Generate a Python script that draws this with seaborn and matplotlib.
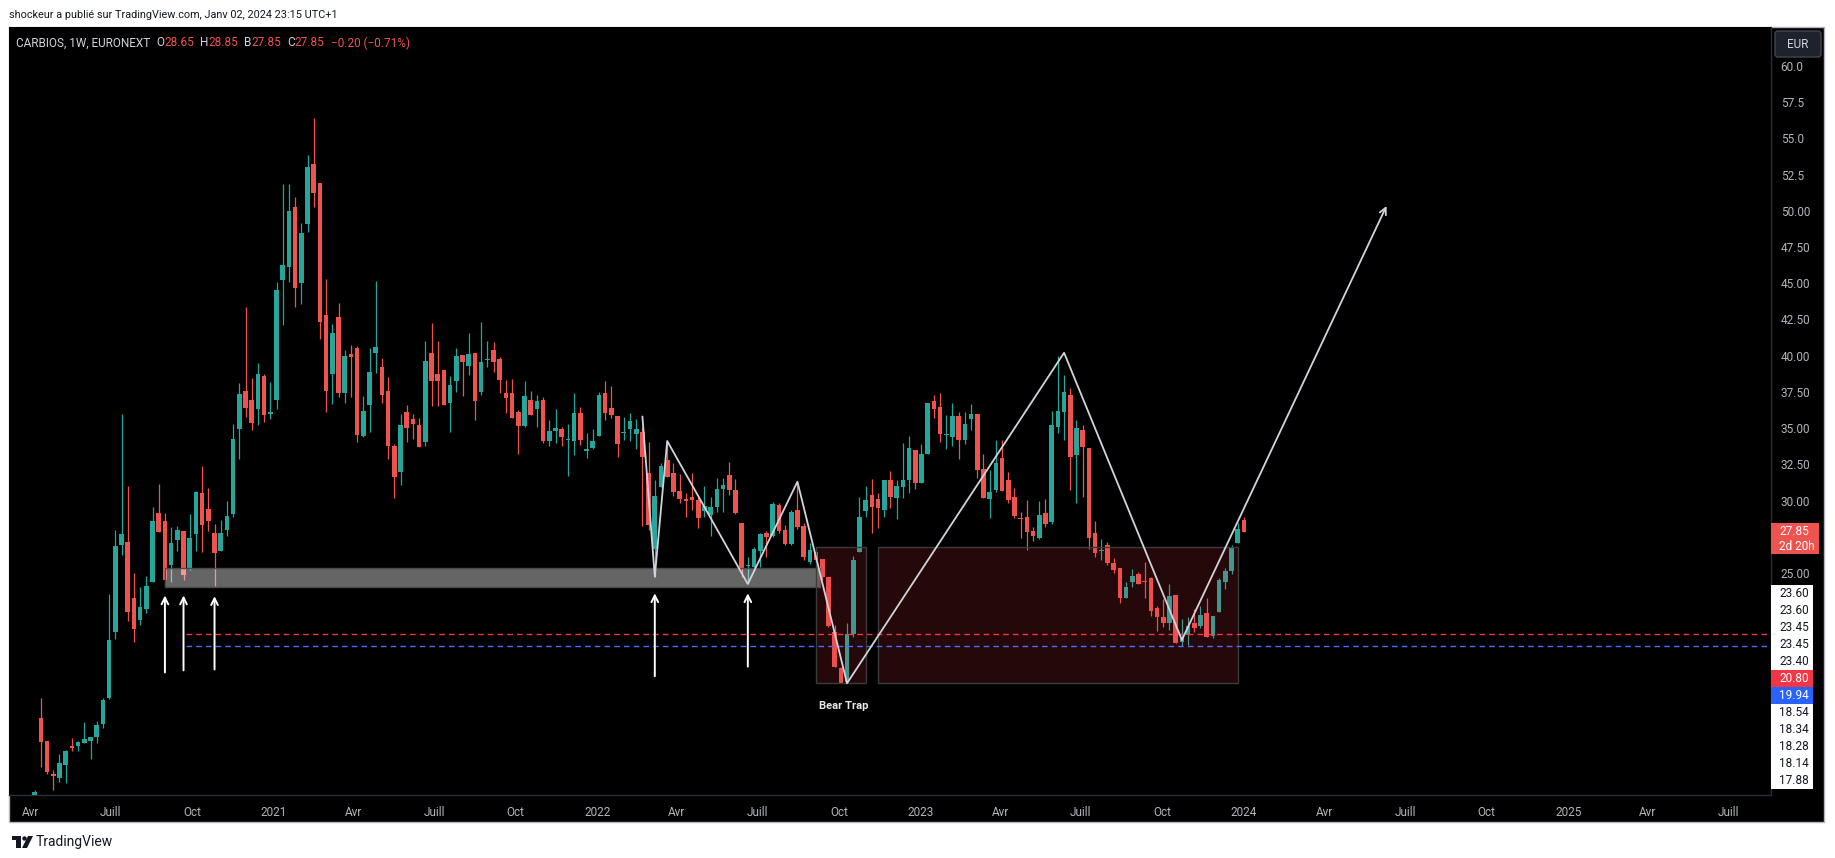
import matplotlib
matplotlib.use("Agg")
import matplotlib.pyplot as plt
import matplotlib.dates as mdates
from matplotlib.patches import Rectangle, FancyBboxPatch, Circle, Polygon
from matplotlib.transforms import IdentityTransform
import numpy as np
import pandas as pd
import seaborn as sns


# CARBIOS weekly candles (EURONEXT, 1W), first bar on the week of 2020-04-06
week_start = "2020-04-06"
opens = [9.7, 15.0, 13.4, 11.1, 10.87, 11.74, 13.0, 13.03, 13.28, 13.43, 13.65, 14.6, 16.36, 20.92, 26.9, 27.14,
         23.26, 21.75, 22.52, 24.37, 29.14, 28.59, 25.54, 27.29, 27.91, 25.36, 27.67, 30.53, 29.42, 27.76, 26.52,
         28.0, 29.08, 34.94, 37.55, 36.94, 36.29, 38.6, 36.0, 36.97, 45.2, 46.15, 50.25, 45.01, 49.11, 53.24,
         51.91, 42.79, 38.72, 42.64, 37.4, 40.11, 40.53, 34.48, 36.62, 40.2, 39.24, 37.56, 33.76, 31.99, 36.11,
         35.63, 35.21, 34.06, 40.16, 38.73, 39.01, 36.75, 38.27, 40.02, 39.31, 40.16, 37.51, 39.7, 40.39, 39.77,
         37.42, 37.42, 36.11, 35.17, 36.94, 36.34, 36.94, 34.13, 34.77, 34.91, 34.2, 34.08, 36.04, 33.44, 33.65,
         34.48, 37.42, 36.38, 35.84, 34.67, 34.94, 34.61, 34.73, 31.88, 26.66, 30.96, 32.8, 31.88, 30.66, 30.13,
         30.25, 30.04, 29.3, 29.0, 29.58, 30.82, 31.76, 30.73, 28.43, 25.45, 25.44, 26.54, 27.74, 27.55, 29.67,
         27.97, 27.0, 29.35, 28.27, 25.78, 26.43, 25.94, 24.7, 20.9, 18.42, 17.5, 20.79, 26.43, 29.3, 30.38, 30.11,
         29.35, 31.42, 30.2, 30.96, 31.42, 33.49, 31.19, 33.21, 36.89, 36.43, 34.5, 34.36, 35.84, 34.18, 35.63,
         35.97, 32.15, 30.11, 30.73, 32.94, 31.42, 30.22, 28.8, 28.84, 27.9, 27.39, 29.12, 28.5, 35.1, 36.13,
         37.28, 33.14, 34.87, 33.63, 27.74, 26.5, 26.91, 25.67, 25.32, 23.3, 24.36, 24.91, 24.4, 24.63, 22.61,
         21.99, 21.53, 23.48, 20.26, 20.72, 21.53, 21.34, 22.22, 20.65, 22.33, 24.4, 25.16, 27.09, 28.65]
highs = [10.0, 16.36, 13.4, 11.4, 12.51, 12.8, 13.6, 13.4, 14.73, 13.7, 14.76, 16.36, 23.54, 28.0, 36.0, 30.99,
         24.98, 24.06, 24.8, 29.55, 31.15, 29.14, 28.16, 28.22, 27.91, 29.08, 30.68, 32.38, 30.84, 28.37, 28.68,
         29.97, 35.3, 38.08, 43.35, 38.45, 39.46, 38.7, 38.2, 45.07, 51.85, 51.85, 50.95, 49.14, 53.85, 56.41,
         51.91, 45.32, 42.17, 43.61, 40.39, 40.73, 40.66, 37.21, 40.53, 45.15, 39.81, 38.55, 33.88, 35.97, 36.59,
         35.95, 35.67, 41.01, 42.25, 41.01, 39.01, 38.59, 40.53, 40.02, 41.56, 40.16, 42.32, 41.01, 40.94, 39.91,
         38.34, 38.41, 36.25, 38.25, 37.54, 37.31, 37.12, 35.56, 36.29, 35.05, 35.28, 37.42, 36.43, 34.68, 34.94,
         37.47, 38.25, 37.9, 35.84, 35.74, 36.04, 35.63, 35.1, 34.06, 31.42, 32.57, 34.11, 32.57, 31.81, 30.5,
         31.88, 30.27, 31.0, 30.27, 31.53, 31.53, 32.68, 31.46, 28.43, 26.13, 26.82, 27.78, 27.92, 29.92, 29.85,
         28.31, 29.35, 31.3, 28.43, 27.05, 26.47, 25.94, 24.7, 21.41, 18.54, 21.57, 26.17, 30.27, 31.0, 31.46, 30.5,
         31.42, 32.06, 31.42, 33.95, 34.45, 33.49, 33.9, 36.71, 37.28, 37.4, 35.9, 36.71, 36.13, 36.11, 36.66,
         35.97, 33.21, 32.11, 34.18, 34.18, 31.95, 30.84, 29.23, 30.04, 28.2, 29.97, 30.11, 36.18, 39.98, 38.66,
         37.74, 35.56, 35.21, 33.63, 28.59, 27.32, 27.14, 26.01, 25.32, 24.36, 25.28, 25.05, 25.74, 24.75, 22.72,
         23.18, 24.24, 23.48, 21.8, 21.99, 22.49, 22.74, 23.25, 22.03, 24.68, 25.32, 26.93, 28.43, 28.85]
lows = [9.5, 11.64, 11.1, 10.0, 10.57, 10.5, 12.7, 12.75, 13.28, 12.14, 13.28, 14.29, 16.3, 20.42, 26.22, 21.72,
        20.21, 21.44, 22.21, 24.37, 27.85, 24.2, 24.37, 26.53, 24.52, 25.23, 26.53, 26.46, 27.91, 24.09, 26.52,
        27.54, 28.84, 32.84, 35.77, 34.9, 35.21, 35.4, 35.6, 36.32, 42.14, 45.07, 43.38, 43.53, 48.55, 50.25,
        41.16, 36.14, 36.63, 37.12, 36.71, 37.17, 34.06, 34.41, 34.75, 38.78, 36.71, 32.89, 30.15, 31.07, 34.02,
        34.27, 33.72, 33.79, 36.55, 36.55, 36.62, 34.71, 37.51, 37.24, 38.66, 35.56, 37.28, 39.24, 38.89, 37.44,
        36.06, 35.72, 33.21, 35.05, 35.93, 35.1, 33.99, 33.79, 33.95, 33.76, 31.72, 33.17, 33.83, 32.96, 33.56,
        34.48, 35.56, 35.7, 33.03, 34.18, 34.13, 33.56, 28.26, 28.0, 24.75, 30.96, 31.65, 30.31, 29.81, 28.89,
        29.35, 28.13, 28.89, 27.58, 29.23, 29.23, 30.38, 29.05, 24.75, 24.3, 25.21, 25.44, 26.13, 27.51, 27.74,
        26.93, 26.93, 28.01, 25.9, 25.6, 25.78, 24.52, 21.3, 18.54, 17.4, 17.4, 20.56, 26.43, 28.84, 27.74, 28.08,
        28.89, 29.46, 28.7, 30.2, 30.5, 30.77, 31.19, 33.21, 35.67, 34.06, 33.56, 33.76, 32.87, 33.9, 34.87,
        31.58, 30.2, 28.82, 30.61, 30.66, 29.85, 28.77, 27.44, 26.59, 27.21, 27.32, 28.2, 28.38, 34.68, 34.18,
        30.73, 29.85, 30.27, 26.63, 26.13, 25.9, 25.55, 25.02, 22.95, 23.3, 24.06, 24.22, 23.3, 22.05, 21.02,
        21.3, 21.07, 20.15, 19.94, 20.03, 20.95, 21.23, 20.56, 20.49, 22.33, 23.87, 24.91, 27.09, 27.85]
closes = [9.9, 13.37, 11.28, 11.0, 11.89, 12.72, 12.95, 13.34, 13.55, 13.68, 14.54, 16.27, 20.36, 26.83, 27.7, 22.34,
          21.13, 22.64, 24.09, 28.59, 27.85, 24.52, 27.08, 28.0, 24.83, 27.42, 30.59, 28.28, 28.56, 26.37, 27.76,
          28.93, 34.23, 37.37, 36.38, 35.37, 38.72, 35.92, 36.1, 44.52, 46.24, 49.97, 44.7, 48.46, 53.02, 51.23,
          42.33, 37.55, 41.56, 37.4, 39.97, 39.93, 34.5, 36.18, 38.87, 40.6, 37.31, 33.79, 31.65, 35.21, 35.03,
          35.3, 33.72, 39.63, 38.27, 38.27, 36.62, 37.97, 39.97, 39.58, 40.11, 36.89, 39.56, 39.78, 39.58, 38.34,
          37.1, 35.72, 35.17, 37.21, 35.93, 36.85, 34.13, 34.8, 35.01, 34.41, 34.25, 36.04, 34.2, 33.56, 34.11,
          37.28, 36.06, 35.93, 33.92, 34.7, 35.49, 34.94, 33.03, 28.31, 30.31, 32.38, 31.65, 30.61, 30.11, 29.95,
          30.04, 28.82, 29.62, 29.58, 30.8, 31.07, 30.73, 29.16, 25.37, 25.5, 26.63, 27.69, 27.46, 29.76, 27.92,
          27.0, 29.23, 28.2, 26.13, 26.59, 25.9, 24.7, 21.34, 18.54, 17.4, 20.77, 25.9, 28.89, 30.04, 29.58, 29.51,
          31.42, 30.22, 31.0, 31.42, 33.6, 31.19, 33.21, 36.71, 36.3, 34.57, 34.56, 35.84, 34.2, 35.28, 35.97,
          32.11, 30.2, 30.57, 32.57, 30.66, 30.04, 28.93, 28.75, 27.85, 27.58, 29.0, 28.38, 35.21, 36.18, 37.49,
          33.03, 34.98, 33.72, 27.44, 26.4, 26.55, 25.67, 25.21, 23.3, 24.03, 24.77, 24.22, 24.36, 22.4, 21.94,
          21.53, 23.41, 20.15, 20.49, 21.34, 21.23, 22.1, 20.56, 22.03, 24.52, 25.14, 26.79, 28.05, 27.85]

# drawings
zigzag_dates = ["2022-02-21", "2022-03-07", "2022-03-21", "2022-06-20", "2022-08-15",
                "2022-10-10", "2023-06-12", "2023-10-23"]
zigzag_prices = [35.8, 24.75, 34.11, 24.24, 31.3, 17.39, 40.2, 20.38]
target_date = "2024-06-10"
target_price = 50.33

arrow_dates = ["2020-08-31", "2020-09-21", "2020-10-26", "2022-03-07", "2022-06-20"]
arrow_tops = [23.45, 23.45, 23.40, 23.60, 23.60]
arrow_bottoms = [18.14, 18.28, 18.34, 17.88, 18.54]

support_start, support_end = "2020-08-31", "2022-09-09"
support_low, support_high = 24.06, 25.37

trap_starts = ["2022-09-05", "2022-11-14"]
trap_ends = ["2022-10-31", "2023-12-25"]
trap_low, trap_high = 17.38, 26.77
trap_label_date, trap_label_price = "2022-10-06", 15.8

level_start = "2020-09-24"
level_red = 20.80
level_blue = 19.94

y_ticks = [60.0, 57.5, 55.0, 52.5, 50.0, 47.5, 45.0, 42.5, 40.0, 37.5, 35.0, 32.5, 30.0, 25.0]
month_names = {1: None, 4: "Avr", 7: "Juill", 10: "Oct"}

# colours
UP = "#26a69a"
DOWN = "#ef5350"
TXT = "#b2b5be"
LINE = "#d1d4dc"
W, H = 1835, 858


def px(x, y):
    """top-left pixel position -> display coords"""
    return x, H - y


sns.set_theme(style="dark", rc={"axes.facecolor": "black", "figure.facecolor": "white"})
plt.rcParams["font.family"] = ["Roboto", "DejaVu Sans"]

fig = plt.figure(figsize=(W / 100, H / 100), dpi=100)

# chart frame (black panel incl. price & time scales)
x0, y0 = px(9, 822)
fig.add_artist(Rectangle((x0, y0), 1824 - 9, 822 - 27, transform=IdentityTransform(),
                         fc="black", ec="#b2b5be", lw=1, zorder=-1))

ax = fig.add_axes([9 / W, 1 - 795 / H, (1771 - 9) / W, (795 - 27) / H])
ax.set_facecolor("black")

dates = pd.date_range(week_start, periods=len(closes), freq="W-MON")
x = mdates.date2num(dates)
o, hi, lo, c = np.array(opens), np.array(highs), np.array(lows), np.array(closes)
colors = np.where(c >= o, UP, DOWN)

ax.vlines(x, lo, hi, colors=colors, lw=0.9, zorder=2)
ax.bar(x, np.maximum(np.abs(c - o), 0.08), bottom=np.minimum(o, c), width=5.2,
       color=colors, linewidth=0, zorder=3)

# support zone
sx0, sx1 = mdates.date2num(pd.to_datetime([support_start, support_end]))
ax.add_patch(Rectangle((sx0, support_low), sx1 - sx0, support_high - support_low,
                       fc=(1, 1, 1, 0.4), ec="#4a4a4a", lw=1, zorder=4))

# bear trap boxes
for s, e in zip(trap_starts, trap_ends):
    bx0, bx1 = mdates.date2num(pd.to_datetime([s, e]))
    ax.add_patch(Rectangle((bx0, trap_low), bx1 - bx0, trap_high - trap_low,
                           fc=(0.95, 0.21, 0.27, 0.15), ec="#3c3c3c", lw=1, zorder=4))
ax.text(mdates.date2num(pd.Timestamp(trap_label_date)), trap_label_price, "Bear Trap",
        color="#e8e8e8", fontsize=8, fontweight="bold", ha="center", va="center", zorder=6)

# horizontal levels
lx = mdates.date2num(pd.Timestamp(level_start))
ax.hlines(level_red, lx, mdates.date2num(pd.Timestamp("2026-01-01")), colors="#f23645",
          lw=1, linestyles=(0, (4, 3)), zorder=4)
ax.hlines(level_blue, lx, mdates.date2num(pd.Timestamp("2026-01-01")), colors="#4d6bfe",
          lw=1, linestyles=(0, (4, 3)), zorder=4)

# zigzag projection
zz = pd.DataFrame({"x": mdates.date2num(pd.to_datetime(zigzag_dates)), "price": zigzag_prices})
sns.lineplot(data=zz, x="x", y="price", sort=False, estimator=None, color=LINE, lw=1.3, ax=ax, zorder=5)
ax.annotate("", xy=(mdates.date2num(pd.Timestamp(target_date)), target_price),
            xytext=(zz["x"].iloc[-1], zz["price"].iloc[-1]),
            arrowprops=dict(arrowstyle="->", color=LINE, lw=1.3, shrinkA=0, shrinkB=0,
                            mutation_scale=12), zorder=5)

# arrows under the lows
for d, t, b in zip(arrow_dates, arrow_tops, arrow_bottoms):
    ax_ = mdates.date2num(pd.Timestamp(d))
    ax.annotate("", xy=(ax_, t), xytext=(ax_, b),
                arrowprops=dict(arrowstyle="->", color="white", lw=1.4, shrinkA=0, shrinkB=0,
                                mutation_scale=12), zorder=5)

ax.set_xlim(mdates.date2num(pd.Timestamp("2020-03-08")), mdates.date2num(pd.Timestamp("2025-08-18")))
ax.set_ylim(9.68, 62.68)
ax.set_xlabel("")
ax.set_ylabel("")

# time scale
ticks, labels = [], []
for m in pd.date_range("2020-04-01", "2025-07-01", freq="MS"):
    if m.month in month_names:
        ticks.append(mdates.date2num(m))
        labels.append(str(m.year) if m.month == 1 else month_names[m.month])
ax.set_xticks(ticks)
ax.set_xticklabels(labels)

# price scale
ax.yaxis.tick_right()
ax.set_yticks(y_ticks)
ax.set_yticklabels([f"{v:.1f}" if v > 50 else f"{v:.2f}" for v in y_ticks])
ax.tick_params(axis="both", length=0, colors=TXT, labelsize=8.5)
ax.tick_params(axis="y", pad=7)
ax.tick_params(axis="x", pad=8)
ax.grid(False)
for side in ["top", "left"]:
    ax.spines[side].set_visible(False)
for side in ["right", "bottom"]:
    ax.spines[side].set_color("#2a2e39")
    ax.spines[side].set_linewidth(1)

# last price label
yl = ax.transData.transform((0, closes[-1]))[1]
fig.add_artist(Rectangle((1771, yl - 22), 48, 31, transform=IdentityTransform(), fc="#ef5350", ec="none", zorder=5))
fig.text(1779, yl, f"{closes[-1]:.2f}", transform=IdentityTransform(), color="white", fontsize=8.5,
         va="center", ha="left", zorder=6)
fig.text(1779, yl - 15, "2d 20h", transform=IdentityTransform(), color="white", fontsize=8.5,
         va="center", ha="left", zorder=6)

# stacked labels of drawings on the price scale
tags = [(p, "white", "#131722") for p in arrow_tops + arrow_bottoms]
tags += [(level_red, "#f23645", "white"), (level_blue, "#2962ff", "white")]
tags.sort(key=lambda t: -t[0])
prev = None
for p, fc, tc in tags:
    yn = ax.transData.transform((0, p))[1]
    if prev is not None:
        yn = min(yn, prev - 17)
    prev = yn
    fig.add_artist(Rectangle((1771, yn - 8.5), 42, 17, transform=IdentityTransform(), fc=fc, ec="none", zorder=5))
    fig.text(1779, yn, f"{p:.2f}", transform=IdentityTransform(), color=tc, fontsize=8.5,
             va="center", ha="left", zorder=6)

# currency button
ex, ey = px(1775, 57)
fig.add_artist(FancyBboxPatch((ex, ey), 46, 26, boxstyle="round,pad=0,rounding_size=3",
                              transform=IdentityTransform(), fc="#1e222d", ec="#434651", lw=1, zorder=5))
fig.text(1798, H - 44, "EUR", transform=IdentityTransform(), color=LINE, fontsize=8.5,
         ha="center", va="center", zorder=6)

# header and legend
fig.text(9, H - 15, "shockeur a publié sur TradingView.com, Janv 02, 2024 23:15 UTC+1",
         transform=IdentityTransform(), color="#131722", fontsize=7.8, va="center", ha="left")

renderer = fig.canvas.get_renderer()
pieces = [("CARBIOS, 1W, EURONEXT", LINE, 0), ("O", LINE, 6), ("28.65", DOWN, 0), ("H", LINE, 6),
          ("28.85", DOWN, 0), ("B", LINE, 6), ("27.85", DOWN, 0), ("C", LINE, 6), ("27.85", DOWN, 0),
          ("\u22120.20 (\u22120.71%)", DOWN, 6)]
cx = 16
for s, col, gap in pieces:
    cx += gap
    t = fig.text(cx, H - 43, s, transform=IdentityTransform(), color=col, fontsize=8.5, va="center", ha="left")
    cx = t.get_window_extent(renderer).x1

# footer logo
fig.add_artist(Rectangle(px(12, 840), 9, 4, transform=IdentityTransform(), fc="#131722", ec="none"))
fig.add_artist(Rectangle(px(16, 848), 5, 12, transform=IdentityTransform(), fc="#131722", ec="none"))
fig.add_artist(Circle(px(24.5, 838.5), 2.2, transform=IdentityTransform(), fc="#131722", ec="none"))
fig.add_artist(Polygon([px(28, 836), px(33, 836), px(27, 848), px(22, 848)], closed=True,
                       transform=IdentityTransform(), fc="#131722", ec="none"))
fig.text(36, H - 842, "TradingView", transform=IdentityTransform(), color="#131722", fontsize=10,
         va="center", ha="left")

fig.savefig("out.png", dpi=100, facecolor="white")
